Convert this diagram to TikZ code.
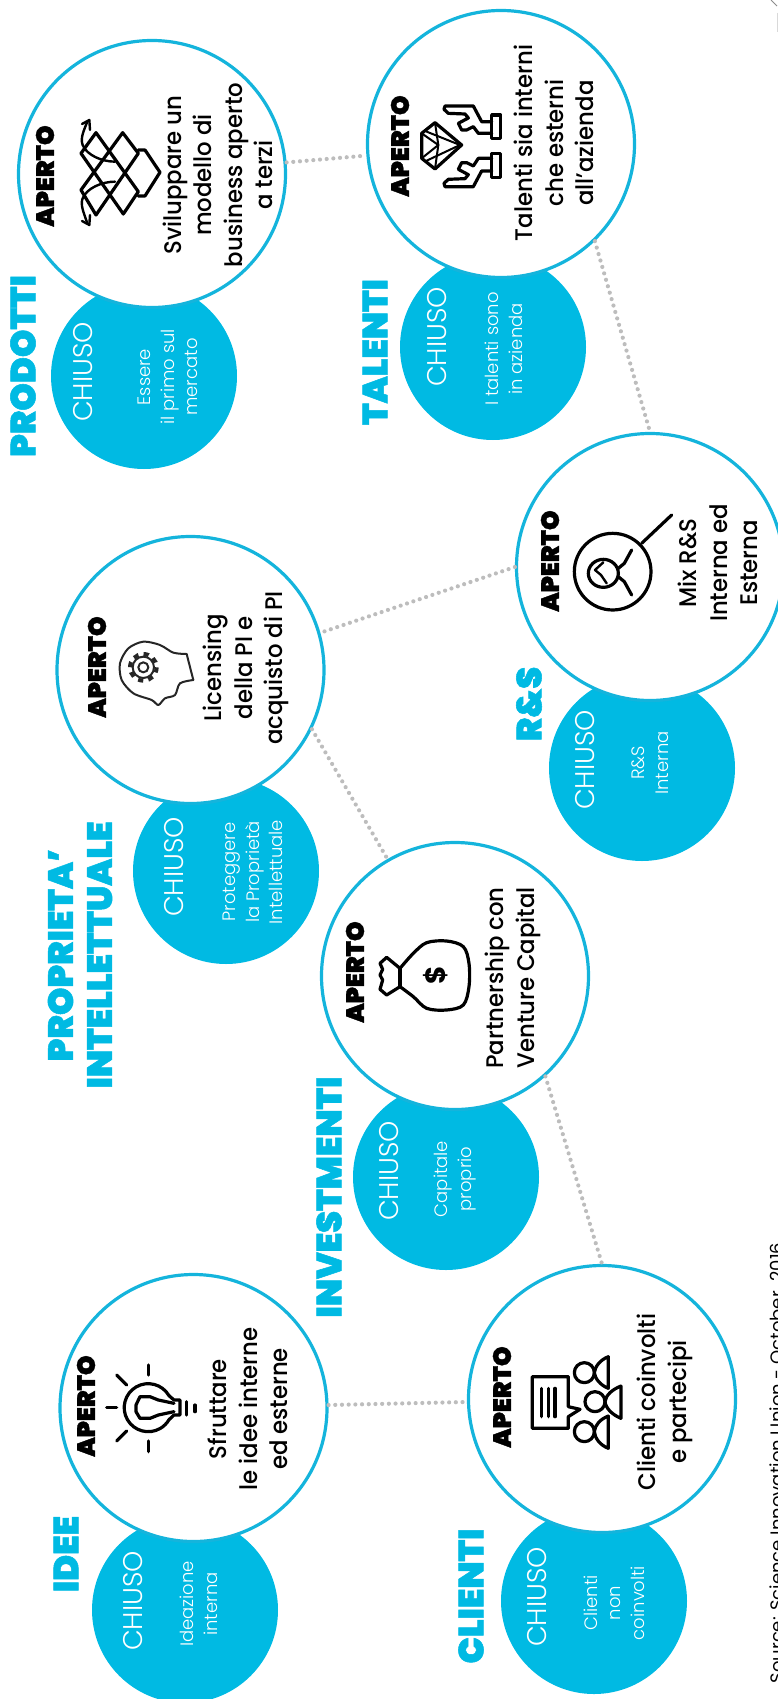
\documentclass[tikz,border=0pt]{standalone}
\usepackage{fontspec}
\setmainfont{Poppins}
\newfontfamily\headfont[FakeBold=1.5]{Poppins Black}
\newfontfamily\bodyfont[FakeStretch=0.95]{Poppins Medium}
\newfontfamily\thinfont{Poppins Light}
\definecolor{cyanfill}{HTML}{00BAE3}
\definecolor{cyanring}{HTML}{14B4DC}
\definecolor{dotgray}{HTML}{BDBDBD}
\tikzset{
  chiusocircle/.style = {circle, fill = cyanfill, minimum size = 186pt, inner sep = 0pt},
  apertocircle/.style = {circle, draw = cyanring, fill = white, line width = 3.2pt, minimum size = 267pt, inner sep = 0pt},
  link/.style = {draw = dotgray, line width = 4.2pt, line cap = round, dash pattern = on 0pt off 6.7pt},
  heading/.style = {rotate = 90, align = center, text = cyanfill, inner sep = 0pt, font = \headfont\fontsize{35}{39}\selectfont},
  apertotext/.style = {rotate = 90, inner sep = 0pt, font = \headfont\fontsize{25}{30}\selectfont},
  chiusotext/.style = {rotate = 90, text = white, inner sep = 0pt, font = \thinfont\fontsize{27}{30}\selectfont},
  smalltext/.style = {rotate = 90, align = center, text = white, inner sep = 0pt, font = \thinfont\fontsize{18}{23.5}\selectfont},
  mainbody/.style = {rotate = 90, align = center, inner sep = 0pt, font = \bodyfont\fontsize{24}{30.5}\selectfont},
  icon/.style = {line width = 3.2pt, line join = round, line cap = round}
}
\begin{document}
\begin{tikzpicture}[x = 1pt, y = -1pt]
\useasboundingbox (0, 0) rectangle (778, 1699);

\node[chiusocircle] (prodottiC) at (144, 376) {};
\node[chiusocircle] (talentiC) at (493, 347) {};
\node[chiusocircle] (resC) at (642, 768) {};
\node[chiusocircle] (proprietaC) at (226, 871) {};
\node[chiusocircle] (investimentiC) at (446, 1177) {};
\node[chiusocircle] (ideeC) at (185, 1610) {};
\node[chiusocircle] (clientiC) at (594, 1601) {};

\node[apertocircle] (prodottiA) at (152, 174) {};
\node[apertocircle] (talentiA) at (501, 144) {};
\node[apertocircle] (resA) at (650, 567) {};
\node[apertocircle] (proprietaA) at (190.5, 670) {};
\node[apertocircle] (investimentiA) at (455, 976) {};
\node[apertocircle] (ideeA) at (193.5, 1408) {};
\node[apertocircle] (clientiA) at (602, 1399) {};

\draw[link] (prodottiA) -- (talentiA);
\draw[link] (talentiA.-46) -- (resA.90);
\draw[link] (resA.180) -- (proprietaA.16);
\draw[link] (proprietaA.-26) -- (investimentiA.120);
\draw[link] (investimentiA.-48) -- (clientiA.90);
\draw[link] (ideeA) -- (clientiA);

\node[heading] (prodottiH) at (23, 366) {PRODOTTI};
\node[heading] (talentiH) at (375, 352) {TALENTI};
\node[heading] (resH) at (529, 704) {R\&S};
\node[heading] (proprietaH) at (80, 955) {PROPRIETA’\\INTELLETTUALE};
\node[heading] (investimentiH) at (329, 1197) {INVESTMENTI};
\node[heading] (ideeH) at (66, 1554) {IDEE};
\node[heading] (clientiH) at (471, 1596) {CLIENTI};

\node[apertotext] (prodottiT) at (45, 176) {APERTO};
\node[apertotext] (talentiT) at (400, 146) {APERTO};
\node[apertotext] (resT) at (550, 561) {APERTO};
\node[apertotext] (proprietaT) at (97, 667) {APERTO};
\node[apertotext] (investimentiT) at (355, 972) {APERTO};
\node[apertotext] (ideeT) at (86, 1406) {APERTO};
\node[apertotext] (clientiT) at (502, 1397) {APERTO};

\node[mainbody] (prodottiB) at (218, 175) {Sviluppare un\\modello di\\business aperto\\a terzi};
\node[mainbody] (talentiB) at (554, 143) {Talenti sia interni\\che esterni\\all’azienda};
\node[mainbody] (resB) at (718, 563) {Mix R\&S\\Interna ed\\Esterna};
\node[mainbody] (proprietaB) at (246, 668) {Licensing\\della PI e\\acquisto di PI};
\node[mainbody] (investimentiB) at (513, 978) {Partnership con\\Venture Capital};
\node[mainbody] (ideeB) at (248, 1409) {Sfruttare\\le idee interne\\ed esterne};
\node[mainbody] (clientiB) at (665, 1402) {Clienti coinvolti\\e partecipi};

\node[chiusotext] (prodottiL) at (83, 372) {CHIUSO};
\node[chiusotext] (talentiL) at (437.5, 337) {CHIUSO};
\node[chiusotext] (resL) at (585, 760) {CHIUSO};
\node[chiusotext] (proprietaL) at (174.5, 867) {CHIUSO};
\node[chiusotext] (investimentiL) at (389, 1171) {CHIUSO};
\node[chiusotext] (ideeL) at (133, 1601) {CHIUSO};
\node[chiusotext] (clientiL) at (537.5, 1597) {CHIUSO};

\node[smalltext] (prodottiS) at (168, 377) {Essere\\il primo sul\\mercato};
\node[smalltext] (talentiS) at (504, 349) {I talenti sono\\in azienda};
\node[smalltext] (resS) at (650, 763) {R\&S\\Interna};
\node[smalltext] (proprietaS) at (253, 872) {Proteggere\\la Proprietà\\Intellettuale};
\node[smalltext] (investimentiS) at (455, 1179) {Capitale\\proprio};
\node[smalltext] (ideeS) at (199, 1604) {Ideazione\\interna};
\node[smalltext] (clientiS) at (614, 1603) {Clienti\\non\\coinvolti};

\node[rotate = 90, anchor = base, inner sep = 0pt, font = \fontsize{18}{20}\selectfont] (source) at (783, 1463) {Source: Science Innovation Union - October\ \ 2016};

% prodotti
\begin{scope}[shift = {(70, 110)}, x = 0.3333pt, y = -0.3333pt, icon]
\draw (78, 68) -- (205, 245) -- (160, 312) -- (33, 130) -- cycle;
\draw (158, 68) -- (33, 240) -- (78, 315) -- (205, 130) -- cycle;
\draw (205, 120) -- (225, 120) -- (270, 187) -- (225, 258) -- (205, 258);
\draw[line width = 2.4pt] (135, 155) .. controls (95, 155) and (50, 135) .. (38, 105) .. controls (30, 85) and (42, 60) .. (52, 35);
\draw[line width = 2.4pt] (135, 215) .. controls (95, 215) and (50, 235) .. (38, 265) .. controls (30, 285) and (42, 310) .. (52, 340);
\draw[line width = 2.4pt] (36, 42) -- (58, 30) -- (60, 60);
\draw[line width = 2.4pt] (36, 333) -- (58, 345) -- (60, 315);
\end{scope}

% talenti
\begin{scope}[shift = {(410, 90)}, x = 0.3333pt, y = -0.3333pt, icon]
\draw (75, 98) -- (35, 130) -- (35, 205) -- (75, 237) -- (155, 165) -- cycle;
\draw[line width = 2pt] (75, 98) -- (85, 165) -- (75, 237);
\draw[line width = 2pt] (35, 130) -- (85, 165) -- (35, 205);
\draw[line width = 2pt] (50, 125) -- (150, 165) -- (50, 212);
\draw (245, 75) rectangle (272, 145);
\draw (245, 95) -- (215, 95) -- (190, 48) -- (105, 48) -- (102, 58) -- (115, 70) -- (165, 72) -- (175, 84) -- (145, 100) -- (155, 120) -- (170, 120) -- (190, 110) -- (205, 130) -- (245, 130);
\draw (245, 190) rectangle (272, 262);
\draw (245, 243) -- (215, 243) -- (190, 290) -- (105, 290) -- (102, 280) -- (115, 268) -- (165, 266) -- (175, 254) -- (145, 238) -- (155, 218) -- (170, 218) -- (190, 228) -- (205, 205) -- (245, 205);
\end{scope}

% ricerca
\begin{scope}[shift = {(565, 505)}, x = 0.3333pt, y = -0.3333pt, icon]
\draw (143, 200) circle [radius = 115];
\draw (230, 115) -- (320, 30);
\draw (115, 205) ellipse [x radius = 45, y radius = 42];
\draw[line width = 2.4pt] (115, 172) -- (90, 195) -- (108, 210) -- (125, 235);
\draw (160, 190) -- (178, 175) -- (200, 135);
\draw (160, 215) -- (178, 230) -- (200, 270);
\end{scope}

% testa
\begin{scope}[shift = {(110, 630)}, x = 0.3333pt, y = -0.3333pt, icon, draw = black!85, line width = 2pt]
\draw plot [smooth, tension = 0.5] coordinates {(230, 72) (190, 68) (150, 45) (100, 35) (55, 55) (30, 100) (35, 150) (70, 190) (125, 210) (145, 225) (165, 205) (195, 195) (210, 160) (250, 150)};
\draw (230, 72) -- (250, 150);
\draw[line width = 4pt, line cap = butt, dash pattern = on 5.2pt off 5.27pt] (100, 112) circle [radius = 40];
\draw[fill = white] (100, 112) circle [radius = 32];
\draw (100, 112) circle [radius = 15];
\end{scope}

% borsa
\begin{scope}[shift = {(370, 930)}, x = 0.3333pt, y = -0.3333pt, icon]
\draw plot [smooth, tension = 0.55] coordinates {(90, 115) (130, 70) (170, 38) (230, 33) (280, 50) (297, 100) (297, 170) (280, 225) (230, 240) (170, 235) (130, 200) (90, 170)};
\draw (90, 115) -- (90, 170);
\draw (90, 115) -- (50, 82) -- (30, 100) -- (38, 118) -- (30, 135) -- (38, 150) -- (30, 178) -- (50, 195) -- (90, 170);
\node[rotate = 90, inner sep = 0pt, font = \fontsize{28}{30}\selectfont\bfseries] (dollaro) at (197, 137) {\$};
\end{scope}

% lampadina
\begin{scope}[shift = {(100, 1355)}, x = 0.3333pt, y = -0.3333pt, icon]
\draw (145, 30) -- (145, 60);
\draw (50, 60) -- (80, 90);
\draw (20, 158) -- (50, 158);
\draw (50, 258) -- (80, 228);
\draw (145, 258) -- (145, 290);
\draw (260, 140) -- (260, 180);
\draw (285, 150) -- (285, 170);
\draw (207, 122) arc [start angle = -30, delta angle = -300, radius = 72];
\draw (207, 122) -- (222, 135) -- (240, 135) -- (240, 180) -- (222, 180) -- (207, 194);
\draw (222, 145) -- (175, 135) -- (150, 125) -- (120, 125) -- (108, 150) -- (108, 170) -- (120, 190) -- (150, 190) -- (175, 180) -- (222, 170);
\end{scope}

% clienti
\begin{scope}[shift = {(525, 1350)}, x = 0.3333pt, y = -0.3333pt, icon]
\draw (130, 170) -- (165, 178) -- (130, 200) -- (130, 235) -- (22, 235) -- (22, 80) -- (130, 80) -- cycle;
\draw (50, 115) -- (50, 200);
\draw (70, 115) -- (70, 200);
\draw (90, 115) -- (90, 200);
\draw (178, 68) circle [radius = 30];
\draw (250, 20) -- (250, 115) .. controls (225, 105) and (210, 85) .. (208, 68) .. controls (210, 50) and (225, 30) .. (250, 20);
\draw (210, 155) circle [radius = 30];
\draw (288, 108) -- (288, 205) .. controls (263, 195) and (242, 175) .. (240, 155) .. controls (242, 135) and (263, 118) .. (288, 108);
\draw (178, 245) circle [radius = 30];
\draw (250, 198) -- (250, 295) .. controls (225, 285) and (210, 265) .. (208, 245) .. controls (210, 225) and (225, 208) .. (250, 198);
\end{scope}

\draw[black!45, line width = 1pt] (771, 0) -- (777, 6);
\draw[black!15, line width = 1pt] (777.5, 13) -- (777.5, 32);
\end{tikzpicture}
\end{document}
